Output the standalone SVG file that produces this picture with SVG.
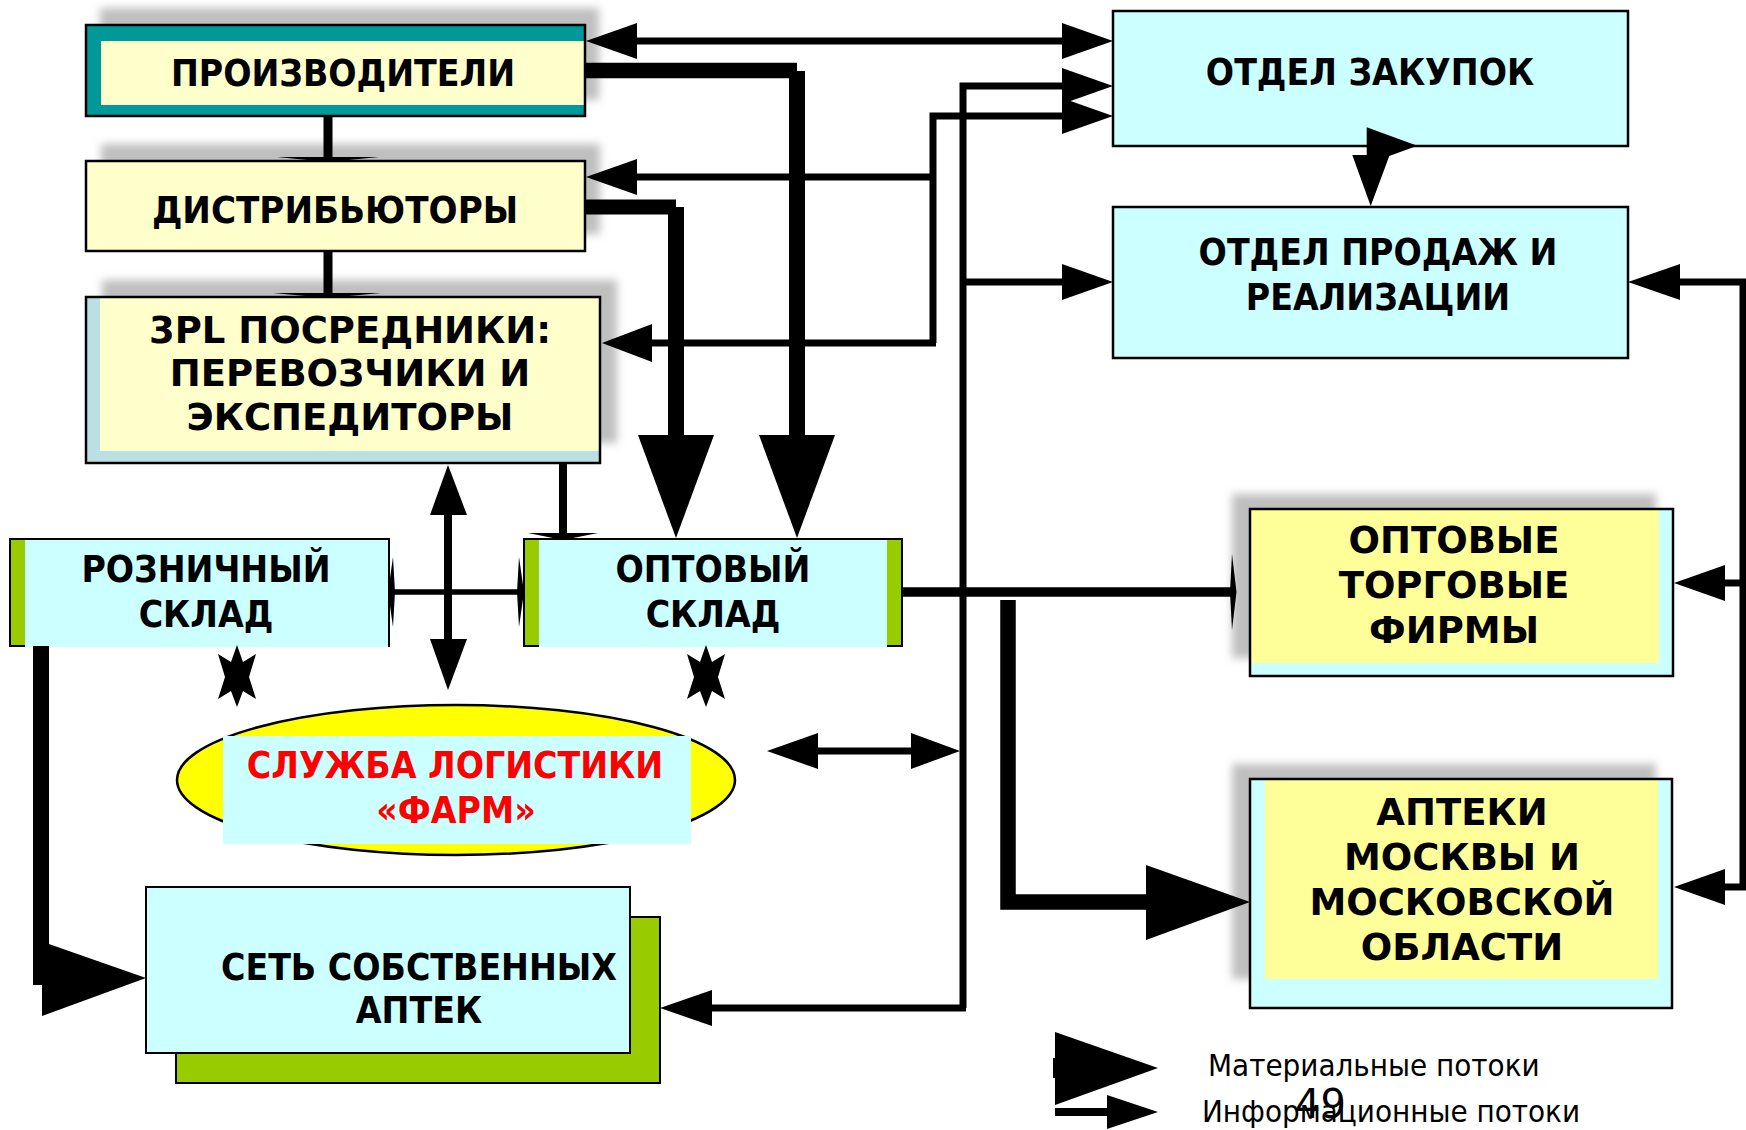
<svg xmlns="http://www.w3.org/2000/svg" width="1746" height="1130" viewBox="0 0 1746 1130">
<defs>
<filter id="blur" x="-10%" y="-20%" width="120%" height="140%"><feGaussianBlur stdDeviation="4"/></filter>
<style>
.lbl{font-family:'DejaVu Sans Condensed','DejaVu Sans',sans-serif;font-stretch:condensed;font-weight:bold;font-size:37px;fill:#000;text-anchor:middle}
.wide{font-family:'DejaVu Sans',sans-serif;font-stretch:normal;font-weight:bold;font-size:37px;fill:#000;text-anchor:middle}
.red{fill:#FF0000}
.leg{font-family:'DejaVu Sans Condensed','DejaVu Sans',sans-serif;font-stretch:condensed;font-size:31px;fill:#000}
.num{font-family:'DejaVu Sans',sans-serif;font-size:40px;fill:#000}
.bd{fill:none;stroke:#000;stroke-width:2.5}
.shadow{fill:#BFBFBF;filter:url(#blur)}
.info{stroke:#000;stroke-width:7;fill:none}
.head{fill:#000}
</style>
</defs>
<rect width="1746" height="1130" fill="#fff"/>

<g id="proizvoditeli">
<rect class="shadow" x="100" y="8" width="499" height="92"/>
<rect x="86" y="25" width="499" height="91" fill="#009999"/>
<rect x="101" y="41" width="484" height="64" fill="#FFFFCC"/>
<rect class="bd" x="86" y="25" width="499" height="91"/>
<text class="lbl" x="343" y="86">ПРОИЗВОДИТЕЛИ</text>
</g>

<g id="distributory">
<rect class="shadow" x="101" y="144" width="499" height="90"/>
<rect x="86" y="161" width="499" height="90" fill="#FFFFCC"/>
<rect class="bd" x="86" y="161" width="499" height="90"/>
<text class="lbl" x="335" y="223" style="font-size:38px">ДИСТРИБЬЮТОРЫ</text>
</g>

<g id="posredniki">
<rect class="shadow" x="102" y="280" width="515" height="163"/>
<rect x="86" y="297" width="514" height="166" fill="#BBE0E3"/>
<rect x="100" y="297" width="500" height="154" fill="#FFFFCC"/>
<rect class="bd" x="86" y="297" width="514" height="166"/>
<text class="wide" x="350" y="343">3PL ПОСРЕДНИКИ:</text>
<text class="wide" x="350" y="386">ПЕРЕВОЗЧИКИ И</text>
<text class="wide" x="350" y="430">ЭКСПЕДИТОРЫ</text>
</g>

<g id="otdel-zakupok">
<rect x="1113" y="11" width="515" height="135" fill="#CCFFFF" stroke="#000" stroke-width="2.5"/>
<text class="lbl" x="1370" y="85">ОТДЕЛ ЗАКУПОК</text>
</g>

<g id="otdel-prodazh">
<rect x="1113" y="207" width="515" height="151" fill="#CCFFFF" stroke="#000" stroke-width="2.5"/>
<text class="lbl" x="1378" y="265">ОТДЕЛ ПРОДАЖ И</text>
<text class="lbl" x="1378" y="310">РЕАЛИЗАЦИИ</text>
</g>

<g id="roznichny-sklad">
<rect x="10" y="539" width="379" height="107" fill="#99CC00" stroke="#000" stroke-width="2"/>
<rect x="25" y="540" width="363" height="107" fill="#CCFFFF"/>
<path d="M10,539 H389 V646" fill="none" stroke="#000" stroke-width="2"/>
<text class="lbl" x="206" y="582">РОЗНИЧНЫЙ</text>
<text class="lbl" x="206" y="627">СКЛАД</text>
</g>

<g id="optovy-sklad">
<rect x="524" y="539" width="378" height="107" fill="#99CC00" stroke="#000" stroke-width="2"/>
<rect x="539" y="540" width="348" height="107" fill="#CCFFFF"/>
<path d="M524,539 H902" fill="none" stroke="#000" stroke-width="2"/>
<text class="lbl" x="713" y="582">ОПТОВЫЙ</text>
<text class="lbl" x="713" y="627">СКЛАД</text>
</g>

<g id="sluzhba">
<ellipse cx="456" cy="780" rx="279" ry="75" fill="#FFFF00" stroke="#000" stroke-width="2.5"/>
<rect x="223" y="736" width="468" height="108" fill="#CCFFFF"/>
<text class="lbl red" x="455" y="778">СЛУЖБА ЛОГИСТИКИ</text>
<text class="lbl red" x="456" y="823">«ФАРМ»</text>
</g>

<g id="set-aptek">
<rect x="176" y="917" width="484" height="166" fill="#99CC00" stroke="#000" stroke-width="2"/>
<rect x="146" y="887" width="484" height="166" fill="#CCFFFF" stroke="#000" stroke-width="2"/>
<text class="lbl" x="419" y="980">СЕТЬ СОБСТВЕННЫХ</text>
<text class="lbl" x="419" y="1023">АПТЕК</text>
</g>

<g id="optovye-firmy">
<rect class="shadow" x="1232" y="494" width="424" height="164"/>
<rect x="1250" y="509" width="423" height="167" fill="#CCFFFF"/>
<rect x="1250" y="509" width="409" height="154" fill="#FFFF99"/>
<rect class="bd" x="1250" y="509" width="423" height="167"/>
<text class="wide" x="1454" y="553">ОПТОВЫЕ</text>
<text class="wide" x="1454" y="598">ТОРГОВЫЕ</text>
<text class="wide" x="1454" y="643">ФИРМЫ</text>
</g>

<g id="apteki-moskvy">
<rect class="shadow" x="1232" y="764" width="424" height="215"/>
<rect x="1250" y="779" width="422" height="229" fill="#CCFFFF"/>
<rect x="1265" y="780" width="393" height="199" fill="#FFFF99"/>
<rect class="bd" x="1250" y="779" width="422" height="229"/>
<text class="wide" x="1462" y="825">АПТЕКИ</text>
<text class="wide" x="1462" y="870">МОСКВЫ И</text>
<text class="wide" x="1462" y="915">МОСКОВСКОЙ</text>
<text class="wide" x="1462" y="960">ОБЛАСТИ</text>
</g>

<g id="connectors">
<line class="info" x1="630" y1="41" x2="1070" y2="41"/>
<polygon class="head" points="586,41 637,23 637,59"/>
<polygon class="head" points="1113,41 1062,23 1062,59"/>

<line x1="328" y1="116" x2="328" y2="158" stroke="#000" stroke-width="9"/>
<polygon class="head" points="277,157 379,157 328,162"/>
<line x1="328" y1="252" x2="328" y2="294" stroke="#000" stroke-width="9"/>
<polygon class="head" points="273,293 381,293 327,298"/>

<line x1="585" y1="70.5" x2="797" y2="70.5" stroke="#000" stroke-width="15.6"/>
<line x1="797" y1="71" x2="797" y2="437" stroke="#000" stroke-width="16"/>
<polygon class="head" points="759,435 835,435 797,538"/>
<line x1="585" y1="207" x2="676" y2="207" stroke="#000" stroke-width="15"/>
<line x1="676" y1="207" x2="676" y2="437" stroke="#000" stroke-width="16"/>
<polygon class="head" points="638,435 714,435 676,538"/>

<path class="info" d="M933,343 V116 H1070"/>
<polygon class="head" points="1113,116 1062,98 1062,134"/>
<line class="info" x1="933" y1="177" x2="630" y2="177"/>
<polygon class="head" points="586,177 637,159 637,195"/>
<line class="info" x1="936" y1="343" x2="645" y2="343"/>
<polygon class="head" points="602,343 652,324 652,362"/>

<path class="info" d="M963,1008 V86 H1070"/>
<polygon class="head" points="1113,86 1062,68 1062,104"/>
<line class="info" x1="963" y1="282" x2="1070" y2="282"/>
<polygon class="head" points="1113,282 1062,264 1062,300"/>
<line class="info" x1="966" y1="1008" x2="705" y2="1008"/>
<polygon class="head" points="660,1008 712,990 712,1026"/>

<line class="info" x1="812" y1="751" x2="915" y2="751"/>
<polygon class="head" points="767,751 818,733 818,769"/>
<polygon class="head" points="960,751 911,733 911,769"/>

<line class="info" x1="1743" y1="279" x2="1743" y2="890"/>
<line class="info" x1="1746" y1="282" x2="1675" y2="282"/>
<polygon class="head" points="1628,282 1680,264 1680,300"/>
<line class="info" x1="1746" y1="583" x2="1720" y2="583"/>
<polygon class="head" points="1674,583 1725,565 1725,601"/>
<line class="info" x1="1746" y1="887" x2="1720" y2="887"/>
<polygon class="head" points="1674,887 1725,869 1725,905"/>

<polygon class="head" points="1366.7,127.3 1417.3,145.7 1389.3,156 1370.7,206 1352.3,155 1366.7,155"/>

<line x1="448" y1="510" x2="448" y2="645" stroke="#000" stroke-width="8"/>
<polygon class="head" points="448,465 430,515 467,515"/>
<polygon class="head" points="430,639 467,639 448,690"/>

<line x1="563" y1="463" x2="563" y2="536" stroke="#000" stroke-width="8"/>
<polygon class="head" points="528,533 598,533 563,540"/>

<line x1="391" y1="592" x2="521" y2="592" stroke="#000" stroke-width="5.5"/>
<polygon class="head" points="393,557 395,592 393,627 388,592"/>
<polygon class="head" points="519,557 517,592 519,627 524,592"/>

<line x1="902" y1="592" x2="1234" y2="592" stroke="#000" stroke-width="9.5"/>
<polygon class="head" points="1232,554 1236.5,592 1232,630 1230,592"/>

<path d="M1008,600 V902 H1150" fill="none" stroke="#000" stroke-width="15.5" stroke-linejoin="miter"/>
<polygon class="head" points="1146,865 1250,902 1146,940"/>

<line x1="41" y1="646" x2="41" y2="985" stroke="#000" stroke-width="16"/>
<polygon class="head" points="46,943 146,978 42,1016 42,985"/>
</g>

<g id="stars">
<polygon class="head" points="237,645 243,662 256,654 249,677 256,699 243,691 237,707 231,691 218,699 225,677 218,654 231,662"/>
<polygon class="head" points="706,645 712,662 725,654 718,677 725,699 712,691 706,707 700,691 687,699 694,677 687,654 700,662"/>
</g>

<g id="legend">
<rect x="1053" y="1058" width="8" height="20" fill="#000"/>
<polygon class="head" points="1055,1032 1158,1068 1055,1105"/>
<line x1="1055" y1="1112" x2="1110" y2="1112" stroke="#000" stroke-width="8"/>
<polygon class="head" points="1107,1095 1158,1112 1107,1129"/>
<text class="leg" x="1208" y="1076">Материальные потоки</text>
<text class="leg" x="1202" y="1122">Информационные потоки</text>
<text class="num" x="1295" y="1118">49</text>
</g>
</svg>
